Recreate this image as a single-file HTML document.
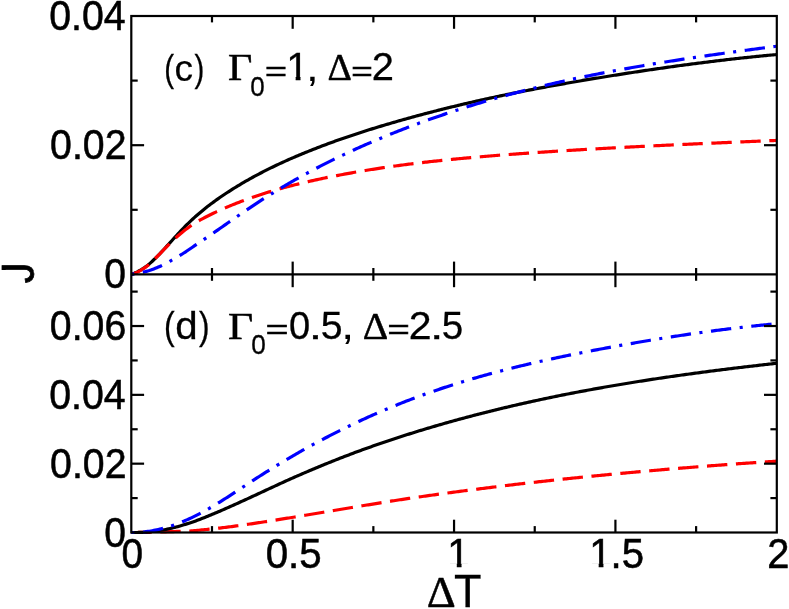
<!DOCTYPE html>
<html><head><meta charset="utf-8"><title>J vs ΔT</title>
<style>
html,body{margin:0;padding:0;background:#fff;}
body{width:789px;height:609px;overflow:hidden;position:relative;font-family:"Liberation Sans",sans-serif;}
</style></head><body>
<svg width="789" height="609" viewBox="0 0 789 609" style="position:absolute;left:0;top:0;will-change:transform">
<rect x="0" y="0" width="789" height="609" fill="#fff"/>
<defs><clipPath id="ct"><rect x="131.3" y="16.0" width="645.5" height="259.9"/></clipPath><clipPath id="cb"><rect x="131.3" y="274.4" width="645.5" height="259.6"/></clipPath></defs>
<path d="M131.3,274.40 L132.8,273.86 L134.3,273.25 L135.8,272.57 L137.3,271.82 L138.8,271.02 L140.3,270.19 L141.8,269.30 L143.3,268.35 L144.8,267.35 L146.3,266.30 L147.8,265.20 L149.3,263.92 L150.8,262.58 L152.3,261.20 L153.8,259.78 L155.3,258.33 L156.8,256.85 L158.3,255.34 L159.8,253.81 L161.3,252.22 L162.8,250.61 L164.3,248.98 L165.8,247.35 L167.3,245.70 L168.8,244.04 L170.3,242.38 L171.8,240.71 L173.3,239.05 L174.8,237.38 L176.3,235.73 L177.8,234.09 L179.3,232.47 L180.8,230.87 L182.3,229.30 L183.8,227.76 L185.3,226.24 L186.8,224.74 L188.3,223.27 L189.8,221.82 L191.3,220.40 L192.8,218.99 L194.3,217.61 L195.8,216.27 L197.3,214.96 L198.8,213.68 L200.3,212.41 L201.8,211.16 L203.3,209.93 L204.8,208.73 L206.3,207.53 L207.8,206.36 L209.3,205.21 L210.8,204.07 L212.3,202.95 L213.8,201.84 L215.3,200.75 L216.8,199.67 L218.3,198.61 L219.8,197.56 L221.3,196.53 L222.8,195.51 L224.3,194.50 L225.8,193.51 L227.3,192.52 L228.8,191.55 L230.3,190.59 L231.8,189.63 L233.3,188.69 L234.8,187.76 L236.3,186.84 L237.8,185.92 L239.3,185.02 L240.8,184.12 L242.3,183.23 L243.8,182.36 L245.3,181.49 L246.8,180.63 L248.3,179.78 L249.8,178.93 L251.3,178.10 L252.8,177.27 L254.3,176.45 L255.8,175.64 L257.3,174.84 L258.8,174.04 L260.3,173.25 L261.8,172.47 L263.3,171.70 L264.8,170.93 L266.3,170.18 L267.8,169.42 L269.3,168.68 L270.8,167.94 L272.3,167.21 L273.8,166.48 L275.3,165.77 L276.8,165.05 L278.3,164.35 L279.8,163.65 L281.3,162.96 L282.8,162.27 L284.3,161.59 L285.8,160.91 L287.3,160.24 L288.8,159.57 L290.3,158.91 L291.8,158.26 L293.3,157.61 L294.8,156.96 L296.3,156.32 L297.8,155.69 L299.3,155.06 L300.8,154.43 L302.3,153.81 L303.8,153.19 L305.3,152.58 L306.8,151.97 L308.3,151.36 L309.8,150.76 L311.3,150.16 L312.8,149.57 L314.3,148.98 L315.8,148.39 L317.3,147.81 L318.8,147.23 L320.3,146.66 L321.8,146.09 L323.3,145.52 L324.8,144.96 L326.3,144.40 L327.8,143.84 L329.3,143.29 L330.8,142.74 L332.3,142.20 L333.8,141.65 L335.3,141.11 L336.8,140.58 L338.3,140.05 L339.8,139.52 L341.3,138.99 L342.8,138.47 L344.3,137.95 L345.8,137.43 L347.3,136.92 L348.8,136.41 L350.3,135.90 L351.8,135.40 L353.3,134.90 L354.8,134.40 L356.3,133.91 L357.8,133.41 L359.3,132.92 L360.8,132.44 L362.3,131.95 L363.8,131.47 L365.3,130.99 L366.8,130.52 L368.3,130.04 L369.8,129.57 L371.3,129.11 L372.8,128.64 L374.3,128.18 L375.8,127.72 L377.3,127.26 L378.8,126.80 L380.3,126.35 L381.8,125.90 L383.3,125.45 L384.8,125.00 L386.3,124.56 L387.8,124.11 L389.3,123.67 L390.8,123.23 L392.3,122.80 L393.8,122.36 L395.3,121.93 L396.8,121.50 L398.3,121.07 L399.8,120.64 L401.3,120.22 L402.8,119.80 L404.3,119.38 L405.8,118.96 L407.3,118.54 L408.8,118.12 L410.3,117.71 L411.8,117.29 L413.3,116.88 L414.8,116.48 L416.3,116.07 L417.8,115.66 L419.3,115.26 L420.8,114.86 L422.3,114.46 L423.8,114.06 L425.3,113.66 L426.8,113.27 L428.3,112.87 L429.8,112.48 L431.3,112.09 L432.8,111.70 L434.3,111.32 L435.8,110.93 L437.3,110.55 L438.8,110.17 L440.3,109.79 L441.8,109.41 L443.3,109.03 L444.8,108.66 L446.3,108.28 L447.8,107.91 L449.3,107.54 L450.8,107.17 L452.3,106.81 L453.8,106.44 L455.3,106.08 L456.8,105.72 L458.3,105.36 L459.8,105.00 L461.3,104.64 L462.8,104.29 L464.3,103.93 L465.8,103.58 L467.3,103.23 L468.8,102.88 L470.3,102.53 L471.8,102.19 L473.3,101.84 L474.8,101.50 L476.3,101.16 L477.8,100.82 L479.3,100.48 L480.8,100.15 L482.3,99.81 L483.8,99.48 L485.3,99.15 L486.8,98.82 L488.3,98.49 L489.8,98.16 L491.3,97.83 L492.8,97.51 L494.3,97.19 L495.8,96.87 L497.3,96.55 L498.8,96.23 L500.3,95.91 L501.8,95.60 L503.3,95.28 L504.8,94.97 L506.3,94.66 L507.8,94.35 L509.3,94.05 L510.8,93.74 L512.3,93.43 L513.8,93.13 L515.3,92.83 L516.8,92.53 L518.3,92.23 L519.8,91.93 L521.3,91.63 L522.8,91.34 L524.3,91.04 L525.8,90.75 L527.3,90.46 L528.8,90.17 L530.3,89.88 L531.8,89.59 L533.3,89.31 L534.8,89.02 L536.3,88.74 L537.8,88.45 L539.3,88.17 L540.8,87.89 L542.3,87.61 L543.8,87.33 L545.3,87.06 L546.8,86.78 L548.3,86.51 L549.8,86.23 L551.3,85.96 L552.8,85.69 L554.3,85.42 L555.8,85.15 L557.3,84.88 L558.8,84.61 L560.3,84.34 L561.8,84.08 L563.3,83.81 L564.8,83.55 L566.3,83.29 L567.8,83.02 L569.3,82.76 L570.8,82.50 L572.3,82.24 L573.8,81.99 L575.3,81.73 L576.8,81.47 L578.3,81.22 L579.8,80.96 L581.3,80.71 L582.8,80.45 L584.3,80.20 L585.8,79.95 L587.3,79.70 L588.8,79.45 L590.3,79.20 L591.8,78.95 L593.3,78.70 L594.8,78.45 L596.3,78.20 L597.8,77.96 L599.3,77.71 L600.8,77.47 L602.3,77.22 L603.8,76.98 L605.3,76.74 L606.8,76.49 L608.3,76.25 L609.8,76.01 L611.3,75.77 L612.8,75.53 L614.3,75.29 L615.8,75.06 L617.3,74.82 L618.8,74.58 L620.3,74.34 L621.8,74.11 L623.3,73.87 L624.8,73.64 L626.3,73.41 L627.8,73.18 L629.3,72.94 L630.8,72.71 L632.3,72.48 L633.8,72.25 L635.3,72.03 L636.8,71.80 L638.3,71.57 L639.8,71.34 L641.3,71.12 L642.8,70.89 L644.3,70.67 L645.8,70.45 L647.3,70.22 L648.8,70.00 L650.3,69.78 L651.8,69.56 L653.3,69.34 L654.8,69.12 L656.3,68.91 L657.8,68.69 L659.3,68.47 L660.8,68.26 L662.3,68.05 L663.8,67.83 L665.3,67.62 L666.8,67.41 L668.3,67.20 L669.8,66.99 L671.3,66.78 L672.8,66.57 L674.3,66.36 L675.8,66.16 L677.3,65.95 L678.8,65.75 L680.3,65.54 L681.8,65.34 L683.3,65.14 L684.8,64.94 L686.3,64.74 L687.8,64.54 L689.3,64.34 L690.8,64.14 L692.3,63.95 L693.8,63.75 L695.3,63.56 L696.8,63.36 L698.3,63.17 L699.8,62.98 L701.3,62.79 L702.8,62.60 L704.3,62.41 L705.8,62.22 L707.3,62.04 L708.8,61.85 L710.3,61.67 L711.8,61.48 L713.3,61.30 L714.8,61.12 L716.3,60.94 L717.8,60.76 L719.3,60.58 L720.8,60.40 L722.3,60.22 L723.8,60.05 L725.3,59.87 L726.8,59.70 L728.3,59.53 L729.8,59.36 L731.3,59.19 L732.8,59.02 L734.3,58.85 L735.8,58.68 L737.3,58.52 L738.8,58.35 L740.3,58.19 L741.8,58.02 L743.3,57.86 L744.8,57.70 L746.3,57.54 L747.8,57.38 L749.3,57.23 L750.8,57.07 L752.3,56.91 L753.8,56.76 L755.3,56.61 L756.8,56.45 L758.3,56.30 L759.8,56.15 L761.3,56.01 L762.8,55.86 L764.3,55.71 L765.8,55.57 L767.3,55.42 L768.8,55.28 L770.3,55.14 L771.8,55.00 L773.3,54.86 L774.8,54.72 L776.8,54.54" fill="none" stroke="#000" stroke-width="3.2" stroke-linejoin="round" clip-path="url(#ct)"/>
<path d="M131.3,274.40 L132.8,273.99 L134.3,273.47 L135.8,272.84 L137.3,272.13 L138.8,271.36 L140.3,270.55 L141.8,269.67 L143.3,268.71 L144.8,267.68 L146.3,266.60 L147.8,265.47 L149.3,264.14 L150.8,262.75 L152.3,261.32 L153.8,259.86 L155.3,258.38 L156.8,256.89 L158.3,255.38 L159.8,253.87 L161.3,252.31 L162.8,250.75 L164.3,249.20 L165.8,247.66 L167.3,246.13 L168.8,244.63 L170.3,243.14 L171.8,241.64 L173.3,240.18 L174.8,238.75 L176.3,237.36 L177.8,236.01 L179.3,234.70 L180.8,233.43 L182.3,232.20 L183.8,231.01 L185.3,229.84 L186.8,228.71 L188.3,227.61 L189.8,226.54 L191.3,225.50 L192.8,224.48 L194.3,223.49 L195.8,222.55 L197.3,221.65 L198.8,220.78 L200.3,219.93 L201.8,219.10 L203.3,218.29 L204.8,217.49 L206.3,216.71 L207.8,215.95 L209.3,215.20 L210.8,214.47 L212.3,213.74 L213.8,213.03 L215.3,212.33 L216.8,211.63 L218.3,210.95 L219.8,210.27 L221.3,209.60 L222.8,208.93 L224.3,208.28 L225.8,207.63 L227.3,206.99 L228.8,206.36 L230.3,205.74 L231.8,205.12 L233.3,204.51 L234.8,203.91 L236.3,203.31 L237.8,202.72 L239.3,202.14 L240.8,201.57 L242.3,201.00 L243.8,200.44 L245.3,199.89 L246.8,199.34 L248.3,198.80 L249.8,198.27 L251.3,197.74 L252.8,197.21 L254.3,196.70 L255.8,196.19 L257.3,195.68 L258.8,195.18 L260.3,194.69 L261.8,194.21 L263.3,193.73 L264.8,193.25 L266.3,192.78 L267.8,192.32 L269.3,191.86 L270.8,191.41 L272.3,190.96 L273.8,190.51 L275.3,190.08 L276.8,189.64 L278.3,189.22 L279.8,188.80 L281.3,188.38 L282.8,187.96 L284.3,187.56 L285.8,187.15 L287.3,186.75 L288.8,186.36 L290.3,185.97 L291.8,185.58 L293.3,185.20 L294.8,184.82 L296.3,184.45 L297.8,184.08 L299.3,183.71 L300.8,183.35 L302.3,182.99 L303.8,182.64 L305.3,182.28 L306.8,181.94 L308.3,181.59 L309.8,181.25 L311.3,180.91 L312.8,180.58 L314.3,180.25 L315.8,179.92 L317.3,179.59 L318.8,179.27 L320.3,178.95 L321.8,178.63 L323.3,178.31 L324.8,178.00 L326.3,177.69 L327.8,177.39 L329.3,177.08 L330.8,176.78 L332.3,176.48 L333.8,176.18 L335.3,175.89 L336.8,175.60 L338.3,175.31 L339.8,175.02 L341.3,174.74 L342.8,174.45 L344.3,174.17 L345.8,173.90 L347.3,173.62 L348.8,173.35 L350.3,173.08 L351.8,172.81 L353.3,172.54 L354.8,172.28 L356.3,172.02 L357.8,171.76 L359.3,171.51 L360.8,171.25 L362.3,171.00 L363.8,170.75 L365.3,170.50 L366.8,170.26 L368.3,170.01 L369.8,169.77 L371.3,169.53 L372.8,169.30 L374.3,169.06 L375.8,168.83 L377.3,168.60 L378.8,168.37 L380.3,168.14 L381.8,167.92 L383.3,167.70 L384.8,167.48 L386.3,167.26 L387.8,167.04 L389.3,166.83 L390.8,166.61 L392.3,166.40 L393.8,166.19 L395.3,165.99 L396.8,165.78 L398.3,165.58 L399.8,165.37 L401.3,165.17 L402.8,164.98 L404.3,164.78 L405.8,164.59 L407.3,164.39 L408.8,164.20 L410.3,164.01 L411.8,163.82 L413.3,163.64 L414.8,163.45 L416.3,163.27 L417.8,163.09 L419.3,162.91 L420.8,162.73 L422.3,162.56 L423.8,162.38 L425.3,162.21 L426.8,162.04 L428.3,161.87 L429.8,161.70 L431.3,161.53 L432.8,161.37 L434.3,161.20 L435.8,161.04 L437.3,160.88 L438.8,160.72 L440.3,160.56 L441.8,160.40 L443.3,160.24 L444.8,160.09 L446.3,159.94 L447.8,159.78 L449.3,159.63 L450.8,159.48 L452.3,159.34 L453.8,159.19 L455.3,159.04 L456.8,158.90 L458.3,158.76 L459.8,158.61 L461.3,158.47 L462.8,158.33 L464.3,158.19 L465.8,158.06 L467.3,157.92 L468.8,157.79 L470.3,157.65 L471.8,157.52 L473.3,157.39 L474.8,157.25 L476.3,157.12 L477.8,156.99 L479.3,156.87 L480.8,156.74 L482.3,156.61 L483.8,156.49 L485.3,156.36 L486.8,156.24 L488.3,156.12 L489.8,155.99 L491.3,155.87 L492.8,155.75 L494.3,155.63 L495.8,155.51 L497.3,155.40 L498.8,155.28 L500.3,155.16 L501.8,155.05 L503.3,154.93 L504.8,154.82 L506.3,154.70 L507.8,154.59 L509.3,154.48 L510.8,154.37 L512.3,154.25 L513.8,154.14 L515.3,154.03 L516.8,153.92 L518.3,153.82 L519.8,153.71 L521.3,153.60 L522.8,153.49 L524.3,153.39 L525.8,153.28 L527.3,153.17 L528.8,153.07 L530.3,152.96 L531.8,152.86 L533.3,152.76 L534.8,152.65 L536.3,152.55 L537.8,152.45 L539.3,152.35 L540.8,152.25 L542.3,152.15 L543.8,152.05 L545.3,151.95 L546.8,151.85 L548.3,151.75 L549.8,151.65 L551.3,151.56 L552.8,151.46 L554.3,151.36 L555.8,151.26 L557.3,151.17 L558.8,151.07 L560.3,150.98 L561.8,150.88 L563.3,150.79 L564.8,150.70 L566.3,150.60 L567.8,150.51 L569.3,150.42 L570.8,150.32 L572.3,150.23 L573.8,150.14 L575.3,150.05 L576.8,149.96 L578.3,149.87 L579.8,149.78 L581.3,149.69 L582.8,149.60 L584.3,149.52 L585.8,149.43 L587.3,149.34 L588.8,149.25 L590.3,149.17 L591.8,149.08 L593.3,149.00 L594.8,148.91 L596.3,148.83 L597.8,148.74 L599.3,148.66 L600.8,148.57 L602.3,148.49 L603.8,148.41 L605.3,148.32 L606.8,148.24 L608.3,148.16 L609.8,148.08 L611.3,148.00 L612.8,147.91 L614.3,147.83 L615.8,147.75 L617.3,147.67 L618.8,147.59 L620.3,147.51 L621.8,147.44 L623.3,147.36 L624.8,147.28 L626.3,147.20 L627.8,147.12 L629.3,147.04 L630.8,146.97 L632.3,146.89 L633.8,146.81 L635.3,146.74 L636.8,146.66 L638.3,146.58 L639.8,146.51 L641.3,146.43 L642.8,146.36 L644.3,146.28 L645.8,146.21 L647.3,146.14 L648.8,146.06 L650.3,145.99 L651.8,145.92 L653.3,145.84 L654.8,145.77 L656.3,145.70 L657.8,145.63 L659.3,145.56 L660.8,145.49 L662.3,145.41 L663.8,145.34 L665.3,145.27 L666.8,145.20 L668.3,145.13 L669.8,145.06 L671.3,144.99 L672.8,144.92 L674.3,144.85 L675.8,144.79 L677.3,144.72 L678.8,144.65 L680.3,144.58 L681.8,144.51 L683.3,144.44 L684.8,144.38 L686.3,144.31 L687.8,144.24 L689.3,144.17 L690.8,144.11 L692.3,144.04 L693.8,143.97 L695.3,143.90 L696.8,143.84 L698.3,143.77 L699.8,143.70 L701.3,143.64 L702.8,143.57 L704.3,143.51 L705.8,143.44 L707.3,143.37 L708.8,143.31 L710.3,143.24 L711.8,143.18 L713.3,143.11 L714.8,143.05 L716.3,142.98 L717.8,142.92 L719.3,142.85 L720.8,142.79 L722.3,142.72 L723.8,142.66 L725.3,142.59 L726.8,142.53 L728.3,142.46 L729.8,142.40 L731.3,142.33 L732.8,142.27 L734.3,142.21 L735.8,142.14 L737.3,142.08 L738.8,142.01 L740.3,141.95 L741.8,141.88 L743.3,141.82 L744.8,141.76 L746.3,141.69 L747.8,141.63 L749.3,141.56 L750.8,141.50 L752.3,141.44 L753.8,141.37 L755.3,141.31 L756.8,141.24 L758.3,141.18 L759.8,141.12 L761.3,141.05 L762.8,140.99 L764.3,140.93 L765.8,140.86 L767.3,140.80 L768.8,140.73 L770.3,140.67 L771.8,140.61 L773.3,140.54 L774.8,140.48 L776.8,140.39" fill="none" stroke="#f00" stroke-width="3.2" stroke-linejoin="round" stroke-dasharray="20.4 8.6" stroke-dashoffset="0" clip-path="url(#ct)"/>
<path d="M131.3,274.40 L132.8,274.19 L134.3,273.95 L135.8,273.68 L137.3,273.39 L138.8,273.08 L140.3,272.75 L141.8,272.43 L143.3,272.10 L144.8,271.74 L146.3,271.36 L147.8,270.96 L149.3,270.54 L150.8,270.05 L152.3,269.49 L153.8,268.91 L155.3,268.32 L156.8,267.70 L158.3,267.07 L159.8,266.42 L161.3,265.75 L162.8,265.03 L164.3,264.26 L165.8,263.47 L167.3,262.67 L168.8,261.86 L170.3,261.03 L171.8,260.18 L173.3,259.35 L174.8,258.51 L176.3,257.65 L177.8,256.79 L179.3,255.91 L180.8,254.98 L182.3,254.01 L183.8,253.03 L185.3,252.04 L186.8,251.03 L188.3,250.02 L189.8,249.00 L191.3,247.98 L192.8,246.94 L194.3,245.90 L195.8,244.88 L197.3,243.89 L198.8,242.90 L200.3,241.90 L201.8,240.89 L203.3,239.88 L204.8,238.86 L206.3,237.84 L207.8,236.82 L209.3,235.79 L210.8,234.76 L212.3,233.73 L213.8,232.69 L215.3,231.65 L216.8,230.61 L218.3,229.57 L219.8,228.53 L221.3,227.49 L222.8,226.44 L224.3,225.40 L225.8,224.35 L227.3,223.30 L228.8,222.26 L230.3,221.22 L231.8,220.17 L233.3,219.13 L234.8,218.09 L236.3,217.05 L237.8,216.01 L239.3,214.98 L240.8,213.95 L242.3,212.92 L243.8,211.89 L245.3,210.87 L246.8,209.85 L248.3,208.84 L249.8,207.83 L251.3,206.82 L252.8,205.82 L254.3,204.82 L255.8,203.83 L257.3,202.85 L258.8,201.87 L260.3,200.89 L261.8,199.93 L263.3,198.96 L264.8,198.01 L266.3,197.05 L267.8,196.11 L269.3,195.17 L270.8,194.23 L272.3,193.30 L273.8,192.38 L275.3,191.46 L276.8,190.54 L278.3,189.64 L279.8,188.73 L281.3,187.83 L282.8,186.94 L284.3,186.05 L285.8,185.17 L287.3,184.29 L288.8,183.42 L290.3,182.55 L291.8,181.69 L293.3,180.83 L294.8,179.98 L296.3,179.13 L297.8,178.29 L299.3,177.45 L300.8,176.61 L302.3,175.79 L303.8,174.96 L305.3,174.14 L306.8,173.33 L308.3,172.52 L309.8,171.71 L311.3,170.91 L312.8,170.11 L314.3,169.32 L315.8,168.53 L317.3,167.75 L318.8,166.97 L320.3,166.20 L321.8,165.43 L323.3,164.66 L324.8,163.90 L326.3,163.14 L327.8,162.39 L329.3,161.64 L330.8,160.89 L332.3,160.15 L333.8,159.41 L335.3,158.68 L336.8,157.95 L338.3,157.23 L339.8,156.51 L341.3,155.79 L342.8,155.08 L344.3,154.37 L345.8,153.66 L347.3,152.96 L348.8,152.26 L350.3,151.57 L351.8,150.88 L353.3,150.19 L354.8,149.50 L356.3,148.82 L357.8,148.15 L359.3,147.47 L360.8,146.80 L362.3,146.14 L363.8,145.48 L365.3,144.82 L366.8,144.16 L368.3,143.51 L369.8,142.86 L371.3,142.21 L372.8,141.57 L374.3,140.93 L375.8,140.29 L377.3,139.66 L378.8,139.03 L380.3,138.40 L381.8,137.77 L383.3,137.15 L384.8,136.53 L386.3,135.92 L387.8,135.31 L389.3,134.70 L390.8,134.09 L392.3,133.49 L393.8,132.88 L395.3,132.29 L396.8,131.69 L398.3,131.10 L399.8,130.51 L401.3,129.92 L402.8,129.34 L404.3,128.76 L405.8,128.18 L407.3,127.61 L408.8,127.03 L410.3,126.47 L411.8,125.90 L413.3,125.33 L414.8,124.77 L416.3,124.22 L417.8,123.66 L419.3,123.11 L420.8,122.56 L422.3,122.01 L423.8,121.47 L425.3,120.92 L426.8,120.38 L428.3,119.85 L429.8,119.31 L431.3,118.78 L432.8,118.25 L434.3,117.73 L435.8,117.20 L437.3,116.68 L438.8,116.17 L440.3,115.65 L441.8,115.14 L443.3,114.63 L444.8,114.12 L446.3,113.61 L447.8,113.11 L449.3,112.61 L450.8,112.11 L452.3,111.62 L453.8,111.12 L455.3,110.63 L456.8,110.15 L458.3,109.66 L459.8,109.18 L461.3,108.70 L462.8,108.22 L464.3,107.74 L465.8,107.27 L467.3,106.80 L468.8,106.33 L470.3,105.87 L471.8,105.40 L473.3,104.94 L474.8,104.48 L476.3,104.03 L477.8,103.57 L479.3,103.12 L480.8,102.67 L482.3,102.22 L483.8,101.78 L485.3,101.33 L486.8,100.89 L488.3,100.46 L489.8,100.02 L491.3,99.59 L492.8,99.15 L494.3,98.73 L495.8,98.30 L497.3,97.87 L498.8,97.45 L500.3,97.03 L501.8,96.61 L503.3,96.20 L504.8,95.78 L506.3,95.37 L507.8,94.96 L509.3,94.55 L510.8,94.15 L512.3,93.74 L513.8,93.34 L515.3,92.94 L516.8,92.54 L518.3,92.15 L519.8,91.76 L521.3,91.36 L522.8,90.98 L524.3,90.59 L525.8,90.20 L527.3,89.82 L528.8,89.44 L530.3,89.06 L531.8,88.68 L533.3,88.31 L534.8,87.93 L536.3,87.56 L537.8,87.19 L539.3,86.82 L540.8,86.46 L542.3,86.09 L543.8,85.73 L545.3,85.37 L546.8,85.01 L548.3,84.66 L549.8,84.30 L551.3,83.95 L552.8,83.60 L554.3,83.25 L555.8,82.90 L557.3,82.56 L558.8,82.21 L560.3,81.87 L561.8,81.54 L563.3,81.20 L564.8,80.87 L566.3,80.54 L567.8,80.21 L569.3,79.88 L570.8,79.56 L572.3,79.23 L573.8,78.91 L575.3,78.59 L576.8,78.27 L578.3,77.95 L579.8,77.64 L581.3,77.33 L582.8,77.01 L584.3,76.70 L585.8,76.39 L587.3,76.09 L588.8,75.78 L590.3,75.47 L591.8,75.17 L593.3,74.87 L594.8,74.57 L596.3,74.27 L597.8,73.97 L599.3,73.68 L600.8,73.39 L602.3,73.09 L603.8,72.80 L605.3,72.51 L606.8,72.22 L608.3,71.94 L609.8,71.65 L611.3,71.37 L612.8,71.09 L614.3,70.80 L615.8,70.52 L617.3,70.25 L618.8,69.97 L620.3,69.69 L621.8,69.42 L623.3,69.15 L624.8,68.87 L626.3,68.60 L627.8,68.33 L629.3,68.07 L630.8,67.80 L632.3,67.53 L633.8,67.27 L635.3,67.01 L636.8,66.75 L638.3,66.48 L639.8,66.23 L641.3,65.97 L642.8,65.71 L644.3,65.45 L645.8,65.20 L647.3,64.95 L648.8,64.69 L650.3,64.44 L651.8,64.19 L653.3,63.94 L654.8,63.70 L656.3,63.45 L657.8,63.20 L659.3,62.96 L660.8,62.72 L662.3,62.47 L663.8,62.23 L665.3,61.99 L666.8,61.75 L668.3,61.51 L669.8,61.28 L671.3,61.04 L672.8,60.81 L674.3,60.57 L675.8,60.34 L677.3,60.11 L678.8,59.87 L680.3,59.64 L681.8,59.41 L683.3,59.18 L684.8,58.95 L686.3,58.73 L687.8,58.50 L689.3,58.27 L690.8,58.05 L692.3,57.82 L693.8,57.60 L695.3,57.38 L696.8,57.16 L698.3,56.93 L699.8,56.71 L701.3,56.49 L702.8,56.28 L704.3,56.06 L705.8,55.84 L707.3,55.62 L708.8,55.41 L710.3,55.19 L711.8,54.98 L713.3,54.76 L714.8,54.55 L716.3,54.34 L717.8,54.13 L719.3,53.92 L720.8,53.71 L722.3,53.50 L723.8,53.29 L725.3,53.08 L726.8,52.87 L728.3,52.66 L729.8,52.46 L731.3,52.25 L732.8,52.04 L734.3,51.84 L735.8,51.63 L737.3,51.43 L738.8,51.23 L740.3,51.02 L741.8,50.82 L743.3,50.62 L744.8,50.42 L746.3,50.22 L747.8,50.02 L749.3,49.82 L750.8,49.62 L752.3,49.42 L753.8,49.22 L755.3,49.02 L756.8,48.82 L758.3,48.62 L759.8,48.43 L761.3,48.23 L762.8,48.03 L764.3,47.84 L765.8,47.64 L767.3,47.44 L768.8,47.25 L770.3,47.05 L771.8,46.86 L773.3,46.67 L774.8,46.47 L776.8,46.21" fill="none" stroke="#00f" stroke-width="3.2" stroke-linejoin="round" stroke-dasharray="3.1 8.6 20.4 8.5" stroke-dashoffset="0" clip-path="url(#ct)"/>
<path d="M131.3,532.50 L132.8,532.50 L134.3,532.50 L135.8,532.49 L137.3,532.48 L138.8,532.47 L140.3,532.45 L141.8,532.43 L143.3,532.41 L144.8,532.39 L146.3,532.36 L147.8,532.33 L149.3,532.29 L150.8,532.26 L152.3,532.22 L153.8,532.18 L155.3,532.13 L156.8,532.08 L158.3,532.03 L159.8,531.98 L161.3,531.94 L162.8,531.90 L164.3,531.85 L165.8,531.81 L167.3,531.76 L168.8,531.71 L170.3,531.66 L171.8,531.60 L173.3,531.54 L174.8,531.48 L176.3,531.42 L177.8,531.35 L179.3,531.28 L180.8,531.23 L182.3,531.21 L183.8,531.18 L185.3,531.14 L186.8,531.11 L188.3,531.07 L189.8,531.03 L191.3,530.91 L192.8,530.78 L194.3,530.64 L195.8,530.51 L197.3,530.37 L198.8,530.23 L200.3,530.08 L201.8,529.94 L203.3,529.79 L204.8,529.64 L206.3,529.49 L207.8,529.34 L209.3,529.18 L210.8,529.02 L212.3,528.86 L213.8,528.70 L215.3,528.54 L216.8,528.37 L218.3,528.21 L219.8,528.04 L221.3,527.87 L222.8,527.69 L224.3,527.52 L225.8,527.33 L227.3,527.14 L228.8,526.94 L230.3,526.74 L231.8,526.54 L233.3,526.34 L234.8,526.14 L236.3,525.93 L237.8,525.73 L239.3,525.52 L240.8,525.31 L242.3,525.10 L243.8,524.89 L245.3,524.67 L246.8,524.46 L248.3,524.24 L249.8,524.03 L251.3,523.81 L252.8,523.59 L254.3,523.36 L255.8,523.14 L257.3,522.92 L258.8,522.69 L260.3,522.46 L261.8,522.24 L263.3,522.01 L264.8,521.78 L266.3,521.55 L267.8,521.31 L269.3,521.08 L270.8,520.84 L272.3,520.61 L273.8,520.37 L275.3,520.14 L276.8,519.90 L278.3,519.66 L279.8,519.42 L281.3,519.18 L282.8,518.93 L284.3,518.69 L285.8,518.45 L287.3,518.20 L288.8,517.96 L290.3,517.71 L291.8,517.46 L293.3,517.22 L294.8,516.97 L296.3,516.72 L297.8,516.47 L299.3,516.22 L300.8,515.97 L302.3,515.73 L303.8,515.48 L305.3,515.24 L306.8,514.99 L308.3,514.75 L309.8,514.50 L311.3,514.26 L312.8,514.01 L314.3,513.76 L315.8,513.51 L317.3,513.27 L318.8,513.02 L320.3,512.77 L321.8,512.52 L323.3,512.27 L324.8,512.02 L326.3,511.77 L327.8,511.52 L329.3,511.27 L330.8,511.02 L332.3,510.77 L333.8,510.52 L335.3,510.27 L336.8,510.02 L338.3,509.77 L339.8,509.52 L341.3,509.27 L342.8,509.02 L344.3,508.77 L345.8,508.52 L347.3,508.27 L348.8,508.02 L350.3,507.77 L351.8,507.52 L353.3,507.27 L354.8,507.02 L356.3,506.77 L357.8,506.53 L359.3,506.28 L360.8,506.03 L362.3,505.78 L363.8,505.54 L365.3,505.29 L366.8,505.04 L368.3,504.80 L369.8,504.55 L371.3,504.31 L372.8,504.06 L374.3,503.82 L375.8,503.58 L377.3,503.33 L378.8,503.09 L380.3,502.85 L381.8,502.61 L383.3,502.37 L384.8,502.13 L386.3,501.89 L387.8,501.66 L389.3,501.42 L390.8,501.18 L392.3,500.95 L393.8,500.71 L395.3,500.48 L396.8,500.24 L398.3,500.01 L399.8,499.78 L401.3,499.56 L402.8,499.33 L404.3,499.11 L405.8,498.89 L407.3,498.67 L408.8,498.45 L410.3,498.23 L411.8,498.01 L413.3,497.79 L414.8,497.57 L416.3,497.36 L417.8,497.14 L419.3,496.93 L420.8,496.71 L422.3,496.50 L423.8,496.28 L425.3,496.07 L426.8,495.86 L428.3,495.65 L429.8,495.44 L431.3,495.23 L432.8,495.02 L434.3,494.81 L435.8,494.60 L437.3,494.40 L438.8,494.19 L440.3,493.98 L441.8,493.78 L443.3,493.58 L444.8,493.37 L446.3,493.17 L447.8,492.97 L449.3,492.77 L450.8,492.56 L452.3,492.36 L453.8,492.16 L455.3,491.97 L456.8,491.77 L458.3,491.57 L459.8,491.37 L461.3,491.18 L462.8,490.98 L464.3,490.78 L465.8,490.59 L467.3,490.40 L468.8,490.20 L470.3,490.01 L471.8,489.82 L473.3,489.62 L474.8,489.43 L476.3,489.24 L477.8,489.05 L479.3,488.85 L480.8,488.66 L482.3,488.47 L483.8,488.29 L485.3,488.10 L486.8,487.91 L488.3,487.72 L489.8,487.54 L491.3,487.35 L492.8,487.16 L494.3,486.98 L495.8,486.79 L497.3,486.61 L498.8,486.43 L500.3,486.25 L501.8,486.06 L503.3,485.88 L504.8,485.70 L506.3,485.52 L507.8,485.34 L509.3,485.16 L510.8,484.99 L512.3,484.81 L513.8,484.63 L515.3,484.46 L516.8,484.28 L518.3,484.11 L519.8,483.93 L521.3,483.76 L522.8,483.58 L524.3,483.41 L525.8,483.24 L527.3,483.07 L528.8,482.90 L530.3,482.73 L531.8,482.56 L533.3,482.39 L534.8,482.22 L536.3,482.05 L537.8,481.88 L539.3,481.71 L540.8,481.55 L542.3,481.38 L543.8,481.22 L545.3,481.05 L546.8,480.89 L548.3,480.72 L549.8,480.56 L551.3,480.40 L552.8,480.24 L554.3,480.07 L555.8,479.91 L557.3,479.75 L558.8,479.59 L560.3,479.43 L561.8,479.28 L563.3,479.12 L564.8,478.96 L566.3,478.80 L567.8,478.65 L569.3,478.49 L570.8,478.33 L572.3,478.18 L573.8,478.02 L575.3,477.87 L576.8,477.72 L578.3,477.56 L579.8,477.41 L581.3,477.26 L582.8,477.11 L584.3,476.96 L585.8,476.81 L587.3,476.66 L588.8,476.51 L590.3,476.36 L591.8,476.21 L593.3,476.06 L594.8,475.92 L596.3,475.77 L597.8,475.62 L599.3,475.48 L600.8,475.33 L602.3,475.19 L603.8,475.04 L605.3,474.89 L606.8,474.75 L608.3,474.60 L609.8,474.46 L611.3,474.32 L612.8,474.17 L614.3,474.03 L615.8,473.89 L617.3,473.75 L618.8,473.61 L620.3,473.46 L621.8,473.32 L623.3,473.18 L624.8,473.04 L626.3,472.91 L627.8,472.77 L629.3,472.63 L630.8,472.49 L632.3,472.36 L633.8,472.22 L635.3,472.08 L636.8,471.95 L638.3,471.81 L639.8,471.68 L641.3,471.54 L642.8,471.41 L644.3,471.28 L645.8,471.14 L647.3,471.01 L648.8,470.88 L650.3,470.75 L651.8,470.62 L653.3,470.49 L654.8,470.35 L656.3,470.23 L657.8,470.10 L659.3,469.97 L660.8,469.84 L662.3,469.71 L663.8,469.58 L665.3,469.46 L666.8,469.33 L668.3,469.20 L669.8,469.08 L671.3,468.95 L672.8,468.83 L674.3,468.70 L675.8,468.58 L677.3,468.45 L678.8,468.33 L680.3,468.21 L681.8,468.09 L683.3,467.96 L684.8,467.84 L686.3,467.72 L687.8,467.60 L689.3,467.48 L690.8,467.36 L692.3,467.24 L693.8,467.12 L695.3,467.00 L696.8,466.88 L698.3,466.76 L699.8,466.65 L701.3,466.53 L702.8,466.41 L704.3,466.30 L705.8,466.18 L707.3,466.06 L708.8,465.95 L710.3,465.83 L711.8,465.72 L713.3,465.61 L714.8,465.49 L716.3,465.38 L717.8,465.27 L719.3,465.15 L720.8,465.04 L722.3,464.93 L723.8,464.82 L725.3,464.71 L726.8,464.59 L728.3,464.48 L729.8,464.37 L731.3,464.26 L732.8,464.15 L734.3,464.05 L735.8,463.94 L737.3,463.83 L738.8,463.72 L740.3,463.61 L741.8,463.51 L743.3,463.41 L744.8,463.31 L746.3,463.20 L747.8,463.10 L749.3,463.00 L750.8,462.90 L752.3,462.80 L753.8,462.70 L755.3,462.60 L756.8,462.50 L758.3,462.40 L759.8,462.30 L761.3,462.20 L762.8,462.10 L764.3,462.01 L765.8,461.91 L767.3,461.81 L768.8,461.72 L770.3,461.62 L771.8,461.52 L773.3,461.43 L774.8,461.33 L776.8,461.20" fill="none" stroke="#f00" stroke-width="3.2" stroke-linejoin="round" stroke-dasharray="20.4 8.6" stroke-dashoffset="0" clip-path="url(#cb)"/>
<path d="M131.3,532.50 L132.8,532.50 L134.3,532.50 L135.8,532.50 L137.3,532.50 L138.8,532.47 L140.3,532.42 L141.8,532.36 L143.3,532.28 L144.8,532.20 L146.3,532.08 L147.8,531.96 L149.3,531.82 L150.8,531.66 L152.3,531.50 L153.8,531.32 L155.3,531.13 L156.8,530.93 L158.3,530.72 L159.8,530.50 L161.3,530.26 L162.8,530.02 L164.3,529.76 L165.8,529.47 L167.3,529.15 L168.8,528.81 L170.3,528.47 L171.8,528.11 L173.3,527.75 L174.8,527.37 L176.3,526.99 L177.8,526.60 L179.3,526.17 L180.8,525.74 L182.3,525.29 L183.8,524.84 L185.3,524.37 L186.8,523.90 L188.3,523.42 L189.8,522.93 L191.3,522.44 L192.8,521.94 L194.3,521.43 L195.8,520.89 L197.3,520.32 L198.8,519.75 L200.3,519.17 L201.8,518.59 L203.3,518.00 L204.8,517.40 L206.3,516.80 L207.8,516.20 L209.3,515.59 L210.8,514.97 L212.3,514.35 L213.8,513.72 L215.3,513.09 L216.8,512.46 L218.3,511.81 L219.8,511.17 L221.3,510.52 L222.8,509.86 L224.3,509.20 L225.8,508.53 L227.3,507.87 L228.8,507.19 L230.3,506.52 L231.8,505.86 L233.3,505.20 L234.8,504.53 L236.3,503.86 L237.8,503.18 L239.3,502.51 L240.8,501.83 L242.3,501.15 L243.8,500.46 L245.3,499.78 L246.8,499.09 L248.3,498.40 L249.8,497.71 L251.3,497.02 L252.8,496.32 L254.3,495.63 L255.8,494.93 L257.3,494.24 L258.8,493.54 L260.3,492.84 L261.8,492.15 L263.3,491.45 L264.8,490.75 L266.3,490.05 L267.8,489.36 L269.3,488.66 L270.8,487.96 L272.3,487.27 L273.8,486.58 L275.3,485.88 L276.8,485.19 L278.3,484.50 L279.8,483.82 L281.3,483.13 L282.8,482.45 L284.3,481.76 L285.8,481.08 L287.3,480.41 L288.8,479.73 L290.3,479.06 L291.8,478.39 L293.3,477.73 L294.8,477.06 L296.3,476.40 L297.8,475.75 L299.3,475.09 L300.8,474.44 L302.3,473.79 L303.8,473.14 L305.3,472.49 L306.8,471.85 L308.3,471.21 L309.8,470.57 L311.3,469.93 L312.8,469.30 L314.3,468.67 L315.8,468.04 L317.3,467.42 L318.8,466.80 L320.3,466.18 L321.8,465.56 L323.3,464.95 L324.8,464.33 L326.3,463.72 L327.8,463.12 L329.3,462.51 L330.8,461.91 L332.3,461.31 L333.8,460.72 L335.3,460.12 L336.8,459.53 L338.3,458.94 L339.8,458.35 L341.3,457.77 L342.8,457.19 L344.3,456.61 L345.8,456.03 L347.3,455.45 L348.8,454.88 L350.3,454.31 L351.8,453.74 L353.3,453.18 L354.8,452.62 L356.3,452.05 L357.8,451.50 L359.3,450.94 L360.8,450.39 L362.3,449.85 L363.8,449.31 L365.3,448.77 L366.8,448.23 L368.3,447.70 L369.8,447.16 L371.3,446.64 L372.8,446.11 L374.3,445.58 L375.8,445.06 L377.3,444.54 L378.8,444.02 L380.3,443.50 L381.8,442.99 L383.3,442.48 L384.8,441.97 L386.3,441.46 L387.8,440.96 L389.3,440.45 L390.8,439.95 L392.3,439.45 L393.8,438.96 L395.3,438.46 L396.8,437.97 L398.3,437.48 L399.8,436.99 L401.3,436.51 L402.8,436.03 L404.3,435.54 L405.8,435.06 L407.3,434.59 L408.8,434.11 L410.3,433.64 L411.8,433.17 L413.3,432.70 L414.8,432.23 L416.3,431.77 L417.8,431.31 L419.3,430.84 L420.8,430.39 L422.3,429.93 L423.8,429.47 L425.3,429.02 L426.8,428.57 L428.3,428.12 L429.8,427.68 L431.3,427.23 L432.8,426.79 L434.3,426.35 L435.8,425.91 L437.3,425.47 L438.8,425.04 L440.3,424.60 L441.8,424.17 L443.3,423.74 L444.8,423.31 L446.3,422.89 L447.8,422.47 L449.3,422.04 L450.8,421.62 L452.3,421.21 L453.8,420.79 L455.3,420.37 L456.8,419.96 L458.3,419.55 L459.8,419.14 L461.3,418.73 L462.8,418.33 L464.3,417.93 L465.8,417.52 L467.3,417.12 L468.8,416.73 L470.3,416.33 L471.8,415.93 L473.3,415.54 L474.8,415.15 L476.3,414.76 L477.8,414.37 L479.3,413.99 L480.8,413.60 L482.3,413.22 L483.8,412.84 L485.3,412.46 L486.8,412.08 L488.3,411.71 L489.8,411.33 L491.3,410.96 L492.8,410.59 L494.3,410.22 L495.8,409.85 L497.3,409.49 L498.8,409.13 L500.3,408.76 L501.8,408.40 L503.3,408.04 L504.8,407.68 L506.3,407.32 L507.8,406.97 L509.3,406.61 L510.8,406.26 L512.3,405.91 L513.8,405.56 L515.3,405.21 L516.8,404.87 L518.3,404.52 L519.8,404.18 L521.3,403.84 L522.8,403.50 L524.3,403.16 L525.8,402.83 L527.3,402.49 L528.8,402.16 L530.3,401.82 L531.8,401.49 L533.3,401.17 L534.8,400.84 L536.3,400.51 L537.8,400.19 L539.3,399.86 L540.8,399.54 L542.3,399.22 L543.8,398.90 L545.3,398.59 L546.8,398.27 L548.3,397.96 L549.8,397.64 L551.3,397.33 L552.8,397.02 L554.3,396.71 L555.8,396.41 L557.3,396.10 L558.8,395.80 L560.3,395.49 L561.8,395.19 L563.3,394.89 L564.8,394.59 L566.3,394.30 L567.8,394.00 L569.3,393.71 L570.8,393.41 L572.3,393.12 L573.8,392.83 L575.3,392.54 L576.8,392.25 L578.3,391.97 L579.8,391.68 L581.3,391.40 L582.8,391.12 L584.3,390.84 L585.8,390.56 L587.3,390.28 L588.8,390.00 L590.3,389.72 L591.8,389.45 L593.3,389.17 L594.8,388.90 L596.3,388.63 L597.8,388.36 L599.3,388.09 L600.8,387.83 L602.3,387.56 L603.8,387.29 L605.3,387.03 L606.8,386.77 L608.3,386.51 L609.8,386.25 L611.3,385.99 L612.8,385.73 L614.3,385.47 L615.8,385.22 L617.3,384.96 L618.8,384.71 L620.3,384.46 L621.8,384.21 L623.3,383.96 L624.8,383.71 L626.3,383.46 L627.8,383.21 L629.3,382.97 L630.8,382.72 L632.3,382.48 L633.8,382.24 L635.3,382.00 L636.8,381.76 L638.3,381.52 L639.8,381.28 L641.3,381.05 L642.8,380.81 L644.3,380.58 L645.8,380.34 L647.3,380.11 L648.8,379.88 L650.3,379.65 L651.8,379.42 L653.3,379.19 L654.8,378.96 L656.3,378.74 L657.8,378.51 L659.3,378.29 L660.8,378.07 L662.3,377.84 L663.8,377.62 L665.3,377.40 L666.8,377.18 L668.3,376.96 L669.8,376.75 L671.3,376.53 L672.8,376.31 L674.3,376.10 L675.8,375.89 L677.3,375.67 L678.8,375.46 L680.3,375.25 L681.8,375.04 L683.3,374.83 L684.8,374.62 L686.3,374.42 L687.8,374.21 L689.3,374.00 L690.8,373.80 L692.3,373.60 L693.8,373.39 L695.3,373.19 L696.8,372.99 L698.3,372.79 L699.8,372.59 L701.3,372.39 L702.8,372.19 L704.3,371.99 L705.8,371.80 L707.3,371.60 L708.8,371.41 L710.3,371.21 L711.8,371.02 L713.3,370.83 L714.8,370.63 L716.3,370.44 L717.8,370.25 L719.3,370.06 L720.8,369.87 L722.3,369.69 L723.8,369.50 L725.3,369.31 L726.8,369.13 L728.3,368.94 L729.8,368.76 L731.3,368.57 L732.8,368.39 L734.3,368.21 L735.8,368.02 L737.3,367.84 L738.8,367.66 L740.3,367.48 L741.8,367.30 L743.3,367.13 L744.8,366.95 L746.3,366.77 L747.8,366.59 L749.3,366.42 L750.8,366.24 L752.3,366.07 L753.8,365.89 L755.3,365.72 L756.8,365.55 L758.3,365.37 L759.8,365.20 L761.3,365.03 L762.8,364.86 L764.3,364.69 L765.8,364.52 L767.3,364.35 L768.8,364.18 L770.3,364.01 L771.8,363.85 L773.3,363.68 L774.8,363.51 L776.8,363.29" fill="none" stroke="#000" stroke-width="3.2" stroke-linejoin="round" clip-path="url(#cb)"/>
<path d="M131.3,532.50 L132.8,532.50 L134.3,532.48 L135.8,532.45 L137.3,532.39 L138.8,532.32 L140.3,532.23 L141.8,532.12 L143.3,531.99 L144.8,531.84 L146.3,531.65 L147.8,531.45 L149.3,531.22 L150.8,530.98 L152.3,530.71 L153.8,530.44 L155.3,530.14 L156.8,529.83 L158.3,529.50 L159.8,529.15 L161.3,528.78 L162.8,528.40 L164.3,528.00 L165.8,527.59 L167.3,527.16 L168.8,526.71 L170.3,526.24 L171.8,525.74 L173.3,525.23 L174.8,524.70 L176.3,524.15 L177.8,523.59 L179.3,523.01 L180.8,522.41 L182.3,521.81 L183.8,521.18 L185.3,520.54 L186.8,519.89 L188.3,519.22 L189.8,518.54 L191.3,517.85 L192.8,517.13 L194.3,516.41 L195.8,515.66 L197.3,514.90 L198.8,514.12 L200.3,513.33 L201.8,512.53 L203.3,511.71 L204.8,510.88 L206.3,510.04 L207.8,509.19 L209.3,508.32 L210.8,507.45 L212.3,506.57 L213.8,505.67 L215.3,504.77 L216.8,503.86 L218.3,502.94 L219.8,502.02 L221.3,501.08 L222.8,500.14 L224.3,499.20 L225.8,498.24 L227.3,497.29 L228.8,496.33 L230.3,495.36 L231.8,494.38 L233.3,493.41 L234.8,492.43 L236.3,491.44 L237.8,490.46 L239.3,489.47 L240.8,488.49 L242.3,487.50 L243.8,486.51 L245.3,485.52 L246.8,484.54 L248.3,483.55 L249.8,482.57 L251.3,481.59 L252.8,480.61 L254.3,479.63 L255.8,478.66 L257.3,477.69 L258.8,476.73 L260.3,475.77 L261.8,474.81 L263.3,473.86 L264.8,472.91 L266.3,471.97 L267.8,471.03 L269.3,470.09 L270.8,469.16 L272.3,468.23 L273.8,467.31 L275.3,466.39 L276.8,465.47 L278.3,464.56 L279.8,463.65 L281.3,462.74 L282.8,461.84 L284.3,460.94 L285.8,460.05 L287.3,459.16 L288.8,458.27 L290.3,457.39 L291.8,456.51 L293.3,455.64 L294.8,454.77 L296.3,453.90 L297.8,453.04 L299.3,452.18 L300.8,451.33 L302.3,450.48 L303.8,449.64 L305.3,448.80 L306.8,447.97 L308.3,447.14 L309.8,446.32 L311.3,445.49 L312.8,444.68 L314.3,443.86 L315.8,443.05 L317.3,442.25 L318.8,441.44 L320.3,440.64 L321.8,439.85 L323.3,439.06 L324.8,438.27 L326.3,437.49 L327.8,436.71 L329.3,435.93 L330.8,435.16 L332.3,434.39 L333.8,433.63 L335.3,432.86 L336.8,432.11 L338.3,431.35 L339.8,430.60 L341.3,429.86 L342.8,429.12 L344.3,428.38 L345.8,427.65 L347.3,426.91 L348.8,426.19 L350.3,425.46 L351.8,424.75 L353.3,424.03 L354.8,423.32 L356.3,422.61 L357.8,421.91 L359.3,421.21 L360.8,420.51 L362.3,419.82 L363.8,419.13 L365.3,418.44 L366.8,417.76 L368.3,417.08 L369.8,416.41 L371.3,415.74 L372.8,415.07 L374.3,414.41 L375.8,413.75 L377.3,413.10 L378.8,412.44 L380.3,411.80 L381.8,411.15 L383.3,410.51 L384.8,409.88 L386.3,409.24 L387.8,408.61 L389.3,407.99 L390.8,407.37 L392.3,406.75 L393.8,406.13 L395.3,405.52 L396.8,404.92 L398.3,404.31 L399.8,403.71 L401.3,403.12 L402.8,402.53 L404.3,401.94 L405.8,401.35 L407.3,400.77 L408.8,400.20 L410.3,399.62 L411.8,399.05 L413.3,398.49 L414.8,397.92 L416.3,397.36 L417.8,396.81 L419.3,396.26 L420.8,395.71 L422.3,395.16 L423.8,394.62 L425.3,394.08 L426.8,393.55 L428.3,393.02 L429.8,392.49 L431.3,391.96 L432.8,391.44 L434.3,390.92 L435.8,390.41 L437.3,389.90 L438.8,389.39 L440.3,388.88 L441.8,388.38 L443.3,387.88 L444.8,387.39 L446.3,386.90 L447.8,386.41 L449.3,385.92 L450.8,385.44 L452.3,384.96 L453.8,384.48 L455.3,384.01 L456.8,383.53 L458.3,383.07 L459.8,382.60 L461.3,382.14 L462.8,381.68 L464.3,381.22 L465.8,380.77 L467.3,380.32 L468.8,379.87 L470.3,379.43 L471.8,378.98 L473.3,378.54 L474.8,378.11 L476.3,377.67 L477.8,377.24 L479.3,376.81 L480.8,376.39 L482.3,375.96 L483.8,375.54 L485.3,375.12 L486.8,374.71 L488.3,374.30 L489.8,373.89 L491.3,373.48 L492.8,373.07 L494.3,372.67 L495.8,372.27 L497.3,371.87 L498.8,371.47 L500.3,371.08 L501.8,370.69 L503.3,370.30 L504.8,369.91 L506.3,369.53 L507.8,369.15 L509.3,368.77 L510.8,368.39 L512.3,368.01 L513.8,367.64 L515.3,367.27 L516.8,366.90 L518.3,366.53 L519.8,366.17 L521.3,365.81 L522.8,365.45 L524.3,365.09 L525.8,364.73 L527.3,364.38 L528.8,364.03 L530.3,363.68 L531.8,363.33 L533.3,362.98 L534.8,362.64 L536.3,362.29 L537.8,361.95 L539.3,361.61 L540.8,361.27 L542.3,360.94 L543.8,360.61 L545.3,360.27 L546.8,359.94 L548.3,359.61 L549.8,359.29 L551.3,358.96 L552.8,358.64 L554.3,358.32 L555.8,358.00 L557.3,357.68 L558.8,357.36 L560.3,357.04 L561.8,356.73 L563.3,356.42 L564.8,356.11 L566.3,355.80 L567.8,355.49 L569.3,355.18 L570.8,354.87 L572.3,354.57 L573.8,354.27 L575.3,353.97 L576.8,353.66 L578.3,353.37 L579.8,353.07 L581.3,352.77 L582.8,352.48 L584.3,352.18 L585.8,351.89 L587.3,351.60 L588.8,351.31 L590.3,351.02 L591.8,350.73 L593.3,350.44 L594.8,350.15 L596.3,349.87 L597.8,349.58 L599.3,349.30 L600.8,349.02 L602.3,348.74 L603.8,348.46 L605.3,348.18 L606.8,347.90 L608.3,347.62 L609.8,347.34 L611.3,347.07 L612.8,346.79 L614.3,346.52 L615.8,346.25 L617.3,345.97 L618.8,345.70 L620.3,345.43 L621.8,345.16 L623.3,344.90 L624.8,344.63 L626.3,344.36 L627.8,344.10 L629.3,343.83 L630.8,343.57 L632.3,343.31 L633.8,343.05 L635.3,342.79 L636.8,342.53 L638.3,342.27 L639.8,342.01 L641.3,341.76 L642.8,341.50 L644.3,341.25 L645.8,341.00 L647.3,340.75 L648.8,340.50 L650.3,340.25 L651.8,340.00 L653.3,339.75 L654.8,339.51 L656.3,339.26 L657.8,339.02 L659.3,338.78 L660.8,338.53 L662.3,338.29 L663.8,338.06 L665.3,337.82 L666.8,337.58 L668.3,337.34 L669.8,337.11 L671.3,336.88 L672.8,336.64 L674.3,336.41 L675.8,336.18 L677.3,335.96 L678.8,335.73 L680.3,335.50 L681.8,335.28 L683.3,335.05 L684.8,334.83 L686.3,334.61 L687.8,334.39 L689.3,334.17 L690.8,333.95 L692.3,333.74 L693.8,333.52 L695.3,333.31 L696.8,333.09 L698.3,332.88 L699.8,332.67 L701.3,332.46 L702.8,332.25 L704.3,332.05 L705.8,331.84 L707.3,331.64 L708.8,331.44 L710.3,331.24 L711.8,331.04 L713.3,330.84 L714.8,330.64 L716.3,330.44 L717.8,330.25 L719.3,330.06 L720.8,329.86 L722.3,329.67 L723.8,329.48 L725.3,329.30 L726.8,329.11 L728.3,328.92 L729.8,328.74 L731.3,328.56 L732.8,328.38 L734.3,328.20 L735.8,328.02 L737.3,327.84 L738.8,327.66 L740.3,327.49 L741.8,327.32 L743.3,327.15 L744.8,326.98 L746.3,326.81 L747.8,326.64 L749.3,326.47 L750.8,326.31 L752.3,326.15 L753.8,325.99 L755.3,325.83 L756.8,325.67 L758.3,325.51 L759.8,325.35 L761.3,325.20 L762.8,325.05 L764.3,324.90 L765.8,324.75 L767.3,324.60 L768.8,324.45 L770.3,324.31 L771.8,324.16 L773.3,324.02 L774.8,323.88 L776.8,323.70" fill="none" stroke="#00f" stroke-width="3.2" stroke-linejoin="round" stroke-dasharray="3.1 8.6 20.4 8.5" stroke-dashoffset="0" clip-path="url(#cb)"/>
<g stroke="#000" stroke-width="2.2" fill="none" stroke-linecap="butt">
<rect x="131.3" y="16.0" width="645.5" height="516.5"/>
<line x1="131.3" y1="274.4" x2="776.8" y2="274.4"/>
<line x1="292.68" y1="16.00" x2="292.68" y2="28.80"/>
<line x1="292.68" y1="261.60" x2="292.68" y2="287.20"/>
<line x1="292.68" y1="519.70" x2="292.68" y2="532.50"/>
<line x1="454.05" y1="16.00" x2="454.05" y2="28.80"/>
<line x1="454.05" y1="261.60" x2="454.05" y2="287.20"/>
<line x1="454.05" y1="519.70" x2="454.05" y2="532.50"/>
<line x1="615.42" y1="16.00" x2="615.42" y2="28.80"/>
<line x1="615.42" y1="261.60" x2="615.42" y2="287.20"/>
<line x1="615.42" y1="519.70" x2="615.42" y2="532.50"/>
<line x1="211.99" y1="16.00" x2="211.99" y2="22.40"/>
<line x1="211.99" y1="268.00" x2="211.99" y2="280.80"/>
<line x1="211.99" y1="526.10" x2="211.99" y2="532.50"/>
<line x1="373.36" y1="16.00" x2="373.36" y2="22.40"/>
<line x1="373.36" y1="268.00" x2="373.36" y2="280.80"/>
<line x1="373.36" y1="526.10" x2="373.36" y2="532.50"/>
<line x1="534.74" y1="16.00" x2="534.74" y2="22.40"/>
<line x1="534.74" y1="268.00" x2="534.74" y2="280.80"/>
<line x1="534.74" y1="526.10" x2="534.74" y2="532.50"/>
<line x1="696.11" y1="16.00" x2="696.11" y2="22.40"/>
<line x1="696.11" y1="268.00" x2="696.11" y2="280.80"/>
<line x1="696.11" y1="526.10" x2="696.11" y2="532.50"/>
<line x1="131.30" y1="209.80" x2="137.70" y2="209.80"/>
<line x1="770.40" y1="209.80" x2="776.80" y2="209.80"/>
<line x1="131.30" y1="145.20" x2="144.10" y2="145.20"/>
<line x1="764.00" y1="145.20" x2="776.80" y2="145.20"/>
<line x1="131.30" y1="80.60" x2="137.70" y2="80.60"/>
<line x1="770.40" y1="80.60" x2="776.80" y2="80.60"/>
<line x1="131.30" y1="498.09" x2="137.70" y2="498.09"/>
<line x1="770.40" y1="498.09" x2="776.80" y2="498.09"/>
<line x1="131.30" y1="463.67" x2="144.10" y2="463.67"/>
<line x1="764.00" y1="463.67" x2="776.80" y2="463.67"/>
<line x1="131.30" y1="429.26" x2="137.70" y2="429.26"/>
<line x1="770.40" y1="429.26" x2="776.80" y2="429.26"/>
<line x1="131.30" y1="394.85" x2="144.10" y2="394.85"/>
<line x1="764.00" y1="394.85" x2="776.80" y2="394.85"/>
<line x1="131.30" y1="360.43" x2="137.70" y2="360.43"/>
<line x1="770.40" y1="360.43" x2="776.80" y2="360.43"/>
<line x1="131.30" y1="326.02" x2="144.10" y2="326.02"/>
<line x1="764.00" y1="326.02" x2="776.80" y2="326.02"/>
<line x1="131.30" y1="291.61" x2="137.70" y2="291.61"/>
<line x1="770.40" y1="291.61" x2="776.80" y2="291.61"/>
</g>
<defs><clipPath id="c1_0"><path d="M-5,-82.41 H41.21 V-3.98 H14.60 V5 H9.76 V-3.98 H-5 Z"/></clipPath><clipPath id="c1_1"><path d="M-5,-82.41 H41.21 V-3.98 H14.60 V5 H9.76 V-3.98 H-5 Z"/></clipPath><clipPath id="cJ"><path d="M-5,5 H45.57 V-91.15 H14.48 V-24.48 H-5 Z"/></clipPath><clipPath id="c1_3"><path d="M-5,-77.33 H38.66 V-3.79 H13.74 V5 H9.12 V-3.79 H-5 Z"/></clipPath></defs>
<g fill="#000">
<g transform="translate(49.25,30.02) scale(0.9441,1)"><text x="0" y="0" font-size="41.60" font-family="Liberation Sans, sans-serif" stroke="#000" stroke-width="0.55">0.04</text></g>
<g transform="translate(50.08,159.22) scale(0.9440,1)"><text x="0" y="0" font-size="41.60" font-family="Liberation Sans, sans-serif" stroke="#000" stroke-width="0.55">0.02</text></g>
<g transform="translate(104.35,288.42) scale(0.9379,1)"><text x="0" y="0" font-size="41.60" font-family="Liberation Sans, sans-serif" stroke="#000" stroke-width="0.55">0</text></g>
<g transform="translate(50.08,477.69) scale(0.9440,1)"><text x="0" y="0" font-size="41.60" font-family="Liberation Sans, sans-serif" stroke="#000" stroke-width="0.55">0.02</text></g>
<g transform="translate(49.25,408.87) scale(0.9441,1)"><text x="0" y="0" font-size="41.60" font-family="Liberation Sans, sans-serif" stroke="#000" stroke-width="0.55">0.04</text></g>
<g transform="translate(49.82,340.04) scale(0.9440,1)"><text x="0" y="0" font-size="41.60" font-family="Liberation Sans, sans-serif" stroke="#000" stroke-width="0.55">0.06</text></g>
<g transform="translate(104.35,546.52) scale(0.9379,1)"><text x="0" y="0" font-size="41.60" font-family="Liberation Sans, sans-serif" stroke="#000" stroke-width="0.55">0</text></g>
<g transform="translate(121.56,567.72) scale(0.9266,1)"><text x="0" y="0" font-size="41.88" font-family="Liberation Sans, sans-serif" stroke="#000" stroke-width="0.55">0</text></g>
<g transform="translate(265.70,567.72) scale(0.9622,1)"><text x="0" y="0" font-size="41.88" font-family="Liberation Sans, sans-serif" stroke="#000" stroke-width="0.55">0.5</text></g>
<g transform="translate(447.33,567.33) scale(0.9711,1)"><text x="0" y="0" font-size="41.21" font-family="Liberation Sans, sans-serif" stroke="#000" stroke-width="0.55" clip-path="url(#c1_0)">1</text></g>
<g transform="translate(589.23,567.33) scale(0.9711,1)"><text x="0" y="0" font-size="41.21" font-family="Liberation Sans, sans-serif" stroke="#000" stroke-width="0.55" clip-path="url(#c1_1)">1</text></g>
<g transform="translate(610.61,567.72) scale(0.9617,1)"><text x="0" y="0" font-size="41.78" font-family="Liberation Sans, sans-serif" stroke="#000" stroke-width="0.55">.5</text></g>
<g transform="translate(767.17,567.62) scale(0.9543,1)"><text x="0" y="0" font-size="41.75" font-family="Liberation Sans, sans-serif" stroke="#000" stroke-width="0.55">2</text></g>
<g transform="translate(33.75,283.25) rotate(-90) scale(0.9148,1)"><text x="0" y="0" font-size="45.57" font-family="Liberation Sans, sans-serif" stroke="#000" stroke-width="0.8" clip-path="url(#cJ)">J</text></g>
<g transform="translate(453.94,607.05) scale(0.9688,1)"><text x="0" y="0" font-size="46.37" font-family="Liberation Sans, sans-serif" stroke="#000" stroke-width="0.3">T</text></g>
<g transform="translate(426.63,606.95) scale(1.0342,1)"><text x="0" y="0" font-size="43.63" font-family="Liberation Serif, serif" stroke="#000" stroke-width="0.5">Δ</text></g>
<g transform="translate(164.23,80.55) scale(0.8014,1)"><text x="0" y="0" font-size="36.71" font-family="Liberation Sans, sans-serif" stroke="#000" stroke-width="0.3">(</text></g>
<g transform="translate(174.62,81.24) scale(0.9966,1)"><text x="0" y="0" font-size="37.24" font-family="Liberation Sans, sans-serif" stroke="#000" stroke-width="0.2">c</text></g>
<g transform="translate(194.58,80.55) scale(0.8014,1)"><text x="0" y="0" font-size="36.71" font-family="Liberation Sans, sans-serif" stroke="#000" stroke-width="0.3">)</text></g>
<g transform="translate(228.04,80.25) scale(1.1080,1)"><text x="0" y="0" font-size="37.88" font-family="Liberation Serif, serif" stroke="#000" stroke-width="0.5">Γ</text></g>
<g transform="translate(250.34,95.78) scale(0.9418,1)"><text x="0" y="0" font-size="27.54" font-family="Liberation Sans, sans-serif" stroke="#000" stroke-width="0.3">0</text></g>
<g transform="translate(265.06,81.49) scale(1.3487,1)"><text x="0" y="0" font-size="27.93" font-family="Liberation Sans, sans-serif" stroke="#000" stroke-width="0.6">=</text></g>
<g transform="translate(286.18,80.35) scale(1.0403,1)"><text x="0" y="0" font-size="38.66" font-family="Liberation Sans, sans-serif" stroke="#000" stroke-width="0.3" clip-path="url(#c1_3)">1</text></g>
<g transform="translate(305.88,80.93) scale(1.1335,1)"><text x="0" y="0" font-size="40.45" font-family="Liberation Sans, sans-serif">,</text></g>
<g transform="translate(327.51,80.25) scale(1.0087,1)"><text x="0" y="0" font-size="37.57" font-family="Liberation Serif, serif" stroke="#000" stroke-width="0.5">Δ</text></g>
<g transform="translate(351.20,81.49) scale(1.3193,1)"><text x="0" y="0" font-size="27.93" font-family="Liberation Sans, sans-serif" stroke="#000" stroke-width="0.6">=</text></g>
<g transform="translate(371.84,80.35) scale(1.0409,1)"><text x="0" y="0" font-size="38.38" font-family="Liberation Sans, sans-serif" stroke="#000" stroke-width="0.3">2</text></g>
<g transform="translate(164.06,338.86) scale(0.8413,1)"><text x="0" y="0" font-size="38.10" font-family="Liberation Sans, sans-serif" stroke="#000" stroke-width="0.3">(</text></g>
<g transform="translate(175.36,339.08) scale(1.0519,1)"><text x="0" y="0" font-size="38.26" font-family="Liberation Sans, sans-serif" stroke="#000" stroke-width="0.3">d</text></g>
<g transform="translate(199.06,338.86) scale(0.8314,1)"><text x="0" y="0" font-size="38.10" font-family="Liberation Sans, sans-serif" stroke="#000" stroke-width="0.3">)</text></g>
<g transform="translate(228.00,338.65) scale(1.1351,1)"><text x="0" y="0" font-size="38.33" font-family="Liberation Serif, serif" stroke="#000" stroke-width="0.5">Γ</text></g>
<g transform="translate(251.33,354.18) scale(0.9398,1)"><text x="0" y="0" font-size="27.82" font-family="Liberation Sans, sans-serif" stroke="#000" stroke-width="0.3">0</text></g>
<g transform="translate(265.81,339.34) scale(1.3704,1)"><text x="0" y="0" font-size="28.24" font-family="Liberation Sans, sans-serif" stroke="#000" stroke-width="0.6">=</text></g>
<g transform="translate(289.06,338.97) scale(0.9662,1)"><text x="0" y="0" font-size="39.41" font-family="Liberation Sans, sans-serif" stroke="#000" stroke-width="0.3">0</text></g>
<g transform="translate(308.74,338.75) scale(1.3595,1)"><text x="0" y="0" font-size="35.54" font-family="Liberation Sans, sans-serif" stroke="#000" stroke-width="0.3">.</text></g>
<g transform="translate(320.68,338.96) scale(0.9918,1)"><text x="0" y="0" font-size="39.56" font-family="Liberation Sans, sans-serif" stroke="#000" stroke-width="0.3">5</text></g>
<g transform="translate(340.90,339.23) scale(1.1839,1)"><text x="0" y="0" font-size="40.45" font-family="Liberation Sans, sans-serif">,</text></g>
<g transform="translate(362.84,338.65) scale(1.0430,1)"><text x="0" y="0" font-size="38.02" font-family="Liberation Serif, serif" stroke="#000" stroke-width="0.5">Δ</text></g>
<g transform="translate(387.44,339.34) scale(1.3485,1)"><text x="0" y="0" font-size="28.24" font-family="Liberation Sans, sans-serif" stroke="#000" stroke-width="0.6">=</text></g>
<g transform="translate(408.79,338.75) scale(1.0499,1)"><text x="0" y="0" font-size="39.10" font-family="Liberation Sans, sans-serif" stroke="#000" stroke-width="0.3">2</text></g>
<g transform="translate(429.94,338.75) scale(1.3595,1)"><text x="0" y="0" font-size="35.54" font-family="Liberation Sans, sans-serif" stroke="#000" stroke-width="0.3">.</text></g>
<g transform="translate(441.80,338.96) scale(0.9758,1)"><text x="0" y="0" font-size="39.56" font-family="Liberation Sans, sans-serif" stroke="#000" stroke-width="0.3">5</text></g>
</g>
</svg>
</body></html>
